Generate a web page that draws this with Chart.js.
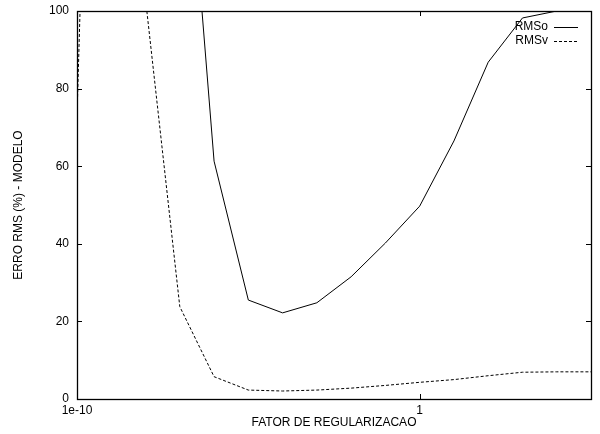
<!DOCTYPE html>
<html>
<head>
<meta charset="utf-8">
<script src="https://cdn.jsdelivr.net/npm/chart.js@4"></script>
<style>
  html, body { margin: 0; padding: 0; background: #fff; }
  canvas { display: block; }
</style>
</head>
<body>
<canvas id="chart" width="600" height="434"></canvas>
<script>
// regularization factor, one point per decade
const factors = [1e-10, 1e-9, 1e-8, 1e-7, 1e-6, 1e-5, 1e-4, 1e-3, 1e-2, 1e-1, 1, 10, 100, 1e3, 1e4, 1e5];
const rmsO = [600, 500, 350, 171, 61.3, 25.5, 22.2, 24.8, 31.5, 40.2, 49.7, 66.5, 86.8, 98.2, 100, 100];
const rmsV = [72.7, 380, 103, 23.8, 5.75, 2.3, 2.06, 2.3, 2.8, 3.5, 4.3, 5.0, 6.0, 6.9, 7.0, 7.0];
const xTickValues = [1e-10, 1];
const xTickLabels = ["1e-10", "1"];
const yTickValues = [0, 20, 40, 60, 80, 100];

const font = { family: "'Liberation Sans', Arial, sans-serif", size: 12 };

function toPoints(ys) {
    return factors.map((f, i) => ({ x: f, y: ys[i] }));
}

// gnuplot style frame, inward ticks and legend
const gnuplotFrame = {
    id: "gnuplotFrame",
    afterDraw(chart) {
        const ctx = chart.ctx;
        const a = chart.chartArea;
        const xs = chart.scales.x;
        const ys = chart.scales.y;
        ctx.save();
        ctx.strokeStyle = "#000";
        ctx.lineWidth = 1;
        ctx.beginPath();
        yTickValues.forEach(v => {
            const py = Math.round(ys.getPixelForValue(v)) + 0.5;
            ctx.moveTo(a.left, py); ctx.lineTo(a.left + 5, py);
            ctx.moveTo(a.right, py); ctx.lineTo(a.right - 5, py);
        });
        xTickValues.forEach(v => {
            const px = Math.round(xs.getPixelForValue(v)) + 0.5;
            ctx.moveTo(px, a.bottom); ctx.lineTo(px, a.bottom - 5);
            ctx.moveTo(px, a.top); ctx.lineTo(px, a.top + 5);
        });
        ctx.stroke();
        ctx.lineWidth = 1.3;
        ctx.strokeRect(Math.round(a.left) + 0.5, Math.round(a.top) + 0.5,
            Math.round(a.right - a.left), Math.round(a.bottom - a.top));

        // legend
        ctx.font = font.size + "px " + font.family;
        ctx.fillStyle = "#000";
        ctx.textAlign = "right";
        ctx.textBaseline = "middle";
        const textRight = a.right - 43;
        chart.data.datasets.forEach((ds, i) => {
            const y = a.top + 15.5 + i * 14.5;
            ctx.fillText(ds.label, textRight, y);
            ctx.lineWidth = 1;
            ctx.setLineDash(ds.borderDash || []);
            ctx.beginPath();
            ctx.moveTo(textRight + 6, Math.round(y) + 0.5);
            ctx.lineTo(textRight + 30, Math.round(y) + 0.5);
            ctx.stroke();
        });
        ctx.restore();
    }
};

new Chart("chart", {
    type: "line",
    data: {
        datasets: [
            {
                label: "RMSo",
                data: toPoints(rmsO),
                borderColor: "#000",
                borderWidth: 1,
                pointRadius: 0,
                fill: false,
                tension: 0
            },
            {
                label: "RMSv",
                data: toPoints(rmsV),
                borderColor: "#000",
                borderWidth: 1,
                borderDash: [3, 2],
                pointRadius: 0,
                fill: false,
                tension: 0
            }
        ]
    },
    options: {
        responsive: false,
        animation: false,
        layout: { padding: { top: 11, right: 9, left: 0, bottom: 0 } },
        plugins: {
            legend: { display: false },
            tooltip: { enabled: false }
        },
        scales: {
            x: {
                type: "logarithmic",
                min: 1e-10,
                max: 1e5,
                grid: { display: false, drawTicks: false },
                border: { display: false },
                afterBuildTicks: scale => {
                    scale.ticks = xTickValues.map(v => ({ value: v }));
                },
                afterFit: scale => {
                    scale.height = 35;
                    scale.paddingLeft = 0;
                    scale.paddingRight = 0;
                },
                ticks: {
                    color: "#000",
                    font: font,
                    padding: 4,
                    maxRotation: 0,
                    autoSkip: false,
                    callback: value => xTickLabels[xTickValues.indexOf(value)]
                },
                title: {
                    display: true,
                    text: "FATOR DE REGULARIZACAO",
                    color: "#000",
                    font: font,
                    padding: { top: 0, bottom: 4 }
                }
            },
            y: {
                type: "linear",
                min: 0,
                max: 100,
                grid: { display: false, drawTicks: false },
                border: { display: false },
                afterBuildTicks: scale => {
                    scale.ticks = yTickValues.map(v => ({ value: v }));
                },
                afterFit: scale => {
                    scale.width = 77;
                    scale.paddingTop = 0;
                    scale.paddingBottom = 0;
                },
                ticks: {
                    color: "#000",
                    font: font,
                    padding: 8
                },
                title: {
                    display: true,
                    text: "ERRO RMS (%) - MODELO",
                    color: "#000",
                    font: font,
                    padding: { top: 11, bottom: 0 }
                }
            }
        }
    },
    plugins: [gnuplotFrame]
});
</script>
</body>
</html>
